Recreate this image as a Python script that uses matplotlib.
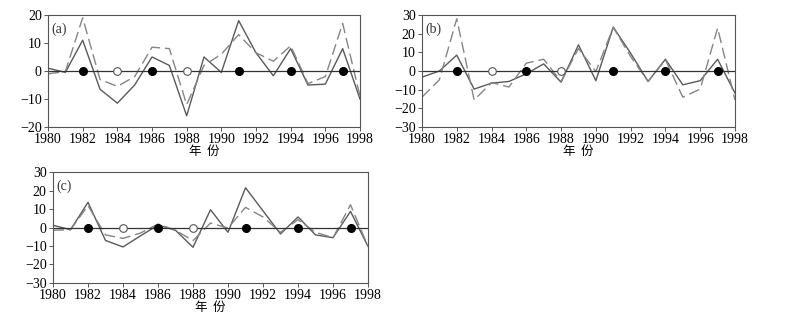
import numpy as np
import matplotlib.pyplot as plt

plt.rcParams['font.family'] = ['Liberation Serif', 'Noto Sans CJK SC']
plt.rcParams['axes.unicode_minus'] = True

years = np.arange(1980, 1999)

# panel (a)
a_solid = [1, -0.5, 11, -6.5, -11.5, -5, 5, 2, -16, 5, -0.5, 18, 6.5, -1.7, 8, -5, -4.7, 8, -10]
a_dash = [-1, -0.2, 19, -3, -5.5, -2, 8.5, 8, -12, 2, 6, 13, 6.5, 3.5, 9, -4.5, -2, 17, -9]

# panel (b)
b_solid = [-3.3, 0, 8.5, -9.7, -6.5, -5.6, -1.5, 3.8, -6, 14, -5.2, 23.5, 9.5, -5.6, 6.3, -7.4, -5.2, 6.3, -11.8]
b_dash = [-14, -4.7, 28, -15.5, -6.2, -8.6, 4.2, 6.3, -5.6, 12, -0.3, 23.4, 7.7, -5.6, 6, -14, -9.7, 23, -15.5]

# panel (c)
c_solid = [1.2, -1.2, 13.6, -7, -10.5, -4.5, 1.3, -1.5, -10.7, 9.6, -2.6, 21.5, 9, -3.5, 5.7, -4, -5.5, 8.7, -10.2]
c_dash = [-1.5, -1.2, 11.8, -4, -5.9, -3, 1.9, -1.5, -7.1, 2.4, -0.3, 10.9, 5.7, -2.6, 4.2, -2.6, -5.5, 12.3, -10.2]

# filled and open marker years
warm_years = [1982, 1986, 1991, 1994, 1997]
cold_years = [1984, 1988]

fig = plt.figure(figsize=(8.03, 3.32), dpi=100)

panels = [
    ([0.0598, 0.6175, 0.3885, 0.3373], a_solid, a_dash, (-20, 20), [-20, -10, 0, 10, 20], '(a)'),
    ([0.5255, 0.6175, 0.3898, 0.3373], b_solid, b_dash, (-30, 30), [-30, -20, -10, 0, 10, 20, 30], '(b)'),
    ([0.0660, 0.1476, 0.3923, 0.3343], c_solid, c_dash, (-30, 30), [-30, -20, -10, 0, 10, 20, 30], '(c)'),
]

for rect, solid, dash, ylim, yticks, label in panels:
    ax = fig.add_axes(rect)
    ax.plot(years, solid, color='#5a5a5a', lw=1.0)
    ax.plot(years, dash, color='#858585', lw=1.0, dashes=(8, 3.5))
    ax.axhline(0, color='#333333', lw=0.9)
    ax.plot(warm_years, [0] * len(warm_years), 'o', color='black', ms=5.5, zorder=5)
    ax.plot(cold_years, [0] * len(cold_years), 'o', mfc='white', mec='#555555', mew=0.8, ms=5.5, zorder=5)
    ax.set_xlim(1980, 1998)
    ax.set_ylim(*ylim)
    ax.set_xticks(range(1980, 1999, 2))
    ax.set_yticks(yticks)
    ax.tick_params(labelsize=10, length=3, width=0.7, color='#555555', direction='out', pad=1.5)
    for s in ax.spines.values():
        s.set_color('#555555')
        s.set_linewidth(0.8)
    ax.text(0.012, 0.93, label, transform=ax.transAxes, fontsize=10, va='top', ha='left', color='#333333')
    ax.set_xlabel('年  份', fontsize=9, labelpad=-1, family=['Noto Sans CJK SC'])

fig.savefig('out.png', dpi=100)
